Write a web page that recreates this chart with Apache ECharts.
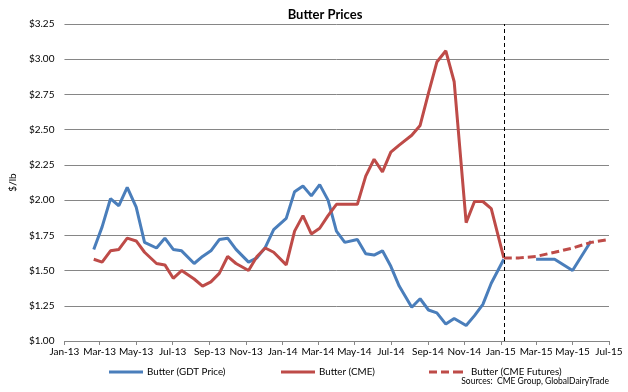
<!DOCTYPE html>
<html>
<head>
<meta charset="utf-8">
<script src="https://cdn.jsdelivr.net/npm/echarts@6/dist/echarts.min.js"></script>
<style>html,body{margin:0;padding:0;background:#fff}#c{width:628px;height:392px}</style>
</head>
<body>
<div id="c"></div>
<script>
// ---- data ----
var auctionDates = ['2013-02-19','2013-03-05','2013-03-19','2013-04-02','2013-04-16','2013-05-01','2013-05-15','2013-06-04','2013-06-18','2013-07-02','2013-07-16','2013-08-06','2013-08-20','2013-09-03','2013-09-17','2013-10-01','2013-10-15','2013-11-05','2013-11-19','2013-12-03','2013-12-17','2014-01-07','2014-01-21','2014-02-04','2014-02-18','2014-03-04','2014-03-18','2014-04-01','2014-04-15','2014-05-06','2014-05-20','2014-06-03','2014-06-17','2014-07-01','2014-07-15','2014-08-05','2014-08-19','2014-09-02','2014-09-16','2014-10-01','2014-10-15','2014-11-04','2014-11-18','2014-12-02','2014-12-16','2015-01-06'];
var gdtPrices = [1.65,1.81,2.01,1.96,2.09,1.95,1.70,1.66,1.73,1.65,1.64,1.55,1.60,1.64,1.72,1.73,1.65,1.56,1.59,1.665,1.79,1.87,2.06,2.10,2.03,2.11,2.00,1.78,1.70,1.72,1.62,1.61,1.64,1.53,1.39,1.24,1.30,1.22,1.20,1.12,1.16,1.11,1.18,1.26,1.41,1.58];
var cmePrices = [1.58,1.56,1.64,1.65,1.73,1.71,1.63,1.55,1.54,1.445,1.50,1.44,1.39,1.42,1.48,1.60,1.55,1.50,1.60,1.66,1.63,1.54,1.78,1.89,1.76,1.80,1.89,1.97,1.97,1.97,2.17,2.29,2.20,2.34,2.39,2.46,2.53,2.76,2.98,3.06,2.84,1.84,1.99,1.99,1.94,1.59];
var gdtFutureDates = ['2015-02-01','2015-03-01','2015-04-01','2015-05-01','2015-06-01'];
var gdtFuturePrices = [null,1.58,1.58,1.50,1.71];
var cmeFutureDates = ['2015-01-06','2015-02-01','2015-03-01','2015-04-01','2015-05-01','2015-06-01','2015-07-01'];
var cmeFuturePrices = [1.59,1.59,1.60,1.63,1.66,1.70,1.72];
var xTickLabels = ['Jan-13','Mar-13','May-13','Jul-13','Sep-13','Nov-13','Jan-14','Mar-14','May-14','Jul-14','Sep-14','Nov-14','Jan-15','Mar-15','May-15','Jul-15'];
var seriesNames = ['Butter (GDT Price)','Butter (CME)','Butter (CME Futures)'];

// ---- helpers ----
var MON = {Jan:0,Feb:1,Mar:2,Apr:3,May:4,Jun:5,Jul:6,Aug:7,Sep:8,Oct:9,Nov:10,Dec:11};
var BASE = Date.UTC(2013,0,1);
function dayOf(s){var p=s.split('-');return (Date.UTC(+p[0],+p[1]-1,+p[2])-BASE)/86400000;}
function labelDay(l){var p=l.split('-');return (Date.UTC(2000+(+p[1]),MON[p[0]],1)-BASE)/86400000;}
var tickDays = xTickLabels.map(labelDay);
function pairs(d,v){return d.map(function(s,i){return [dayOf(s),v[i]];});}

var gdtData = pairs(auctionDates,gdtPrices).concat(pairs(gdtFutureDates,gdtFuturePrices));
var cmeData = pairs(auctionDates,cmePrices);
var futData = pairs(cmeFutureDates,cmeFuturePrices);

var FONT = 'Lato';
var SOLID = 'path://M0,0H34V3H0Z';
var DASHED = 'path://M0,0H8V3H0Z M12,0H20V3H12Z M24,0H34V3H24Z';
function legendAt(name,icon,left,pad){
  return {data:[{name:name,icon:icon}],left:left,top:362,itemWidth:34,itemHeight:3,itemGap:4,
    textStyle:{fontSize:9.8,color:'#000',fontFamily:FONT,padding:[0,0,0,pad]}};
}
var chart = echarts.init(document.getElementById('c'));
chart.setOption({
  animation:false,
  textStyle:{fontFamily:FONT},
  grid:{left:47,right:19,top:24,bottom:51,containLabel:false},
  graphic:[
    {type:'text',x:325,y:15,style:{text:'Butter Prices',x:0,y:0,align:'center',verticalAlign:'middle',font:'bold 13px '+FONT,fill:'#000'}},
    {type:'text',x:609,y:381,style:{text:'Sources:  CME Group, GlobalDairyTrade',x:0,y:0,align:'right',verticalAlign:'middle',font:'8.5px '+FONT,fill:'#000'}}
  ],
  legend:[
    legendAt(seriesNames[0],SOLID,104,-1),
    legendAt(seriesNames[1],SOLID,276,-1),
    legendAt(seriesNames[2],DASHED,424,3)
  ],
  xAxis:{
    type:'value',min:0,max:labelDay('Jul-15'),
    axisLine:{show:true,lineStyle:{color:'#868686',width:1}},
    axisTick:{show:true,customValues:tickDays,length:4,lineStyle:{color:'#868686'}},
    axisLabel:{customValues:tickDays,margin:6,fontSize:10,color:'#000',fontFamily:FONT,
      formatter:function(v){var i=tickDays.indexOf(v);return i>=0?xTickLabels[i]:'';}},
    splitLine:{show:false}
  },
  yAxis:{
    type:'value',min:1,max:3.25,interval:0.25,
    name:'$/lb',nameLocation:'middle',nameGap:35,nameRotate:90,
    nameTextStyle:{fontSize:10,color:'#000',fontFamily:FONT},
    axisLine:{show:false},axisTick:{show:false},
    axisLabel:{formatter:function(v){return '$'+v.toFixed(2);},fontSize:10,color:'#000',margin:10,fontFamily:FONT},
    splitLine:{show:true,lineStyle:{color:'#868686',width:1}}
  },
  series:[
    {name:seriesNames[0],type:'line',data:gdtData,symbol:'none',connectNulls:false,
      lineStyle:{color:'#4A7EBB',width:3},itemStyle:{color:'#4A7EBB'},
      markLine:{silent:true,symbol:['none','none'],label:{show:false},animation:false,
        lineStyle:{color:'#000',type:[4,3],width:1},data:[{xAxis:dayOf('2015-01-06')}]}},
    {name:seriesNames[1],type:'line',data:cmeData,symbol:'none',
      lineStyle:{color:'#BE4B48',width:3},itemStyle:{color:'#BE4B48'}},
    {name:seriesNames[2],type:'line',data:futData,symbol:'none',
      lineStyle:{color:'#BE4B48',width:3,type:[8,4]},itemStyle:{color:'#BE4B48'}}
  ]
});
</script>
</body>
</html>
